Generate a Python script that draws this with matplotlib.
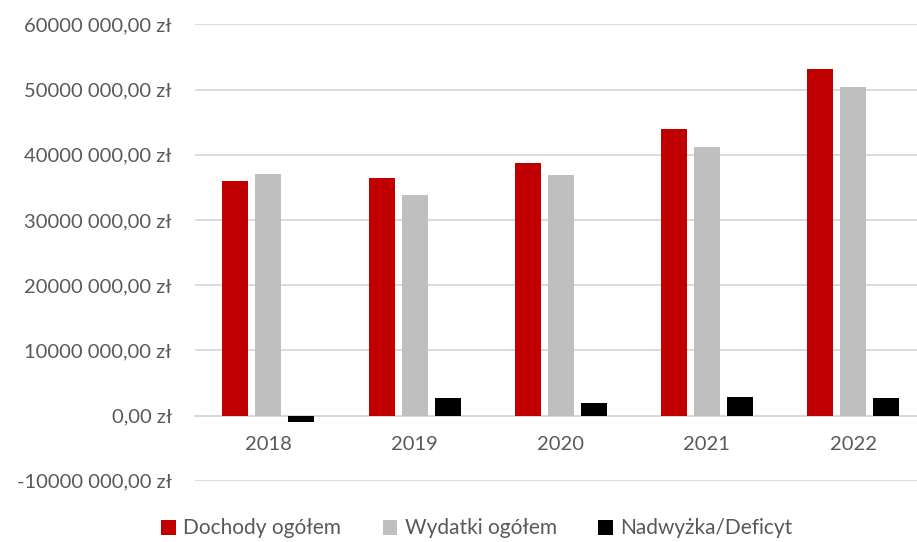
import matplotlib.pyplot as plt
import numpy as np
from matplotlib.ticker import FuncFormatter

plt.rcParams['font.family'] = ['Lato', 'DejaVu Sans']

years = ['2018', '2019', '2020', '2021', '2022']
dochody = [36.0e6, 36.4e6, 38.8e6, 44.0e6, 53.1e6]
wydatki = [37.0e6, 33.8e6, 36.9e6, 41.2e6, 50.4e6]
saldo = [-0.95e6, 2.63e6, 1.92e6, 2.84e6, 2.68e6]

labels = ['Dochody ogółem', 'Wydatki ogółem', 'Nadwyżka/Deficyt']
colors = ['#c00000', '#bfbfbf', '#000000']

fig = plt.figure(figsize=(9.17, 5.42), dpi=100)
ax = fig.add_axes([0.213, 0.113, 0.797, 0.842])

x = np.arange(len(years))
w = 0.178
step = 0.226
for i, (vals, lab, col) in enumerate(zip([dochody, wydatki, saldo], labels, colors)):
    ax.bar(x + (i - 1) * step, vals, w, color=col, label=lab, zorder=3)

ax.set_ylim(-10e6, 60e6)
ax.set_xlim(-0.5, 4.5)
ax.set_yticks(np.arange(-10e6, 60e6 + 1, 10e6))

def fmt(v, pos):
    m = int(round(v / 1e6))
    if m == 0:
        return '0,00 zł'
    return f'{m * 1000} 000,00 zł'

ax.yaxis.set_major_formatter(FuncFormatter(fmt))
ax.grid(axis='y', color='#d9d9d9', linewidth=1.3, zorder=0)
for s in ['top', 'right', 'left']:
    ax.spines[s].set_visible(False)
ax.spines['bottom'].set_position(('data', 0))
ax.spines['bottom'].set_color('#d9d9d9')
ax.spines['bottom'].set_linewidth(1.3)
ax.spines['bottom'].set_zorder(2)
ax.set_xticks(x)
ax.set_xticklabels(years)
ax.tick_params(axis='both', length=0, labelsize=14.5, labelcolor='#595959')
ax.tick_params(axis='x', pad=15)
ax.tick_params(axis='y', pad=17)

fig.legend(loc='lower center', bbox_to_anchor=(0.52, -0.028), ncol=3, frameon=False,
           fontsize=15, labelcolor='#595959', handlelength=0.7, handleheight=0.75,
           handletextpad=0.35, columnspacing=2.0)

fig.savefig('out.png', dpi=100)
